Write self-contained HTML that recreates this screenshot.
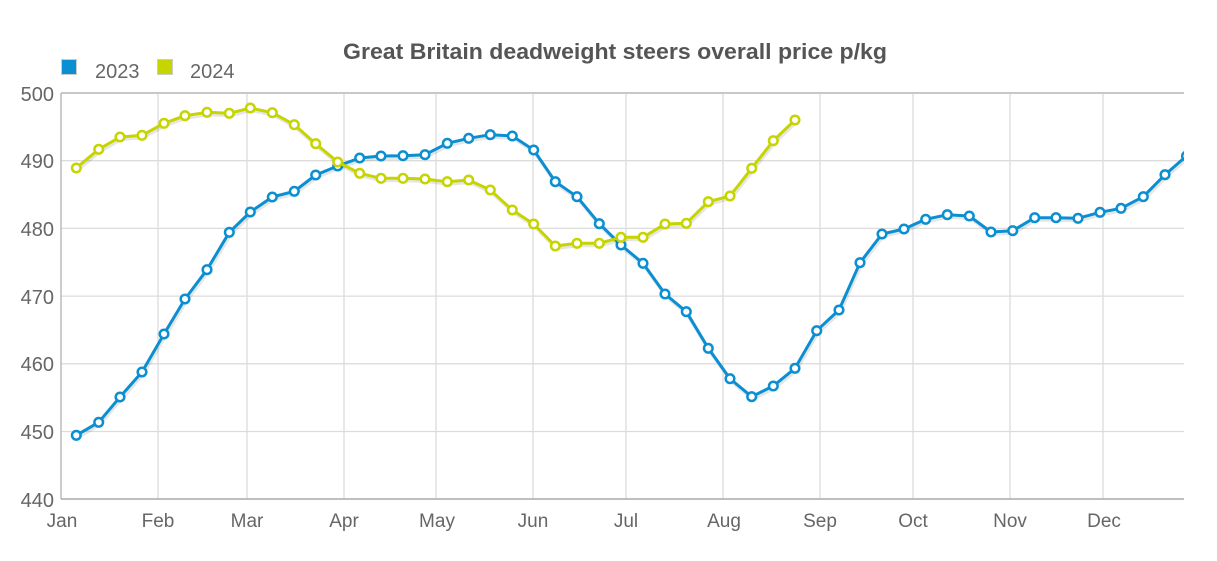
<!DOCTYPE html>
<html><head><meta charset="utf-8"><style>
html,body{margin:0;padding:0;background:#fff;}
svg{display:block;font-family:"Liberation Sans",sans-serif;}
</style></head><body>
<svg width="1217" height="561" viewBox="0 0 1217 561" xmlns="http://www.w3.org/2000/svg">
<defs><clipPath id="c"><rect x="61" y="80" width="1123" height="430"/></clipPath></defs>
<text x="615" y="59" text-anchor="middle" font-size="22" font-weight="bold" fill="#555" textLength="544" lengthAdjust="spacingAndGlyphs">Great Britain deadweight steers overall price p/kg</text>
<rect x="61.5" y="59.5" width="15" height="15" fill="#0a8fd3" stroke="#ccc" stroke-width="1"/>
<text x="95" y="78" font-size="20" fill="#666">2023</text>
<rect x="157.5" y="59.5" width="15" height="15" fill="#c6d400" stroke="#ccc" stroke-width="1"/>
<text x="190" y="78" font-size="20" fill="#666">2024</text>
<g stroke="#dcdcdc" stroke-width="1.3">
<line x1="61" y1="160.7" x2="1184" y2="160.7"/>
<line x1="61" y1="228.4" x2="1184" y2="228.4"/>
<line x1="61" y1="296.1" x2="1184" y2="296.1"/>
<line x1="61" y1="363.8" x2="1184" y2="363.8"/>
<line x1="61" y1="431.5" x2="1184" y2="431.5"/>
<line x1="158" y1="93" x2="158" y2="499"/>
<line x1="247" y1="93" x2="247" y2="499"/>
<line x1="344" y1="93" x2="344" y2="499"/>
<line x1="436" y1="93" x2="436" y2="499"/>
<line x1="533" y1="93" x2="533" y2="499"/>
<line x1="626" y1="93" x2="626" y2="499"/>
<line x1="723" y1="93" x2="723" y2="499"/>
<line x1="820" y1="93" x2="820" y2="499"/>
<line x1="913" y1="93" x2="913" y2="499"/>
<line x1="1010" y1="93" x2="1010" y2="499"/>
<line x1="1103" y1="93" x2="1103" y2="499"/>
</g>
<line x1="61" y1="93" x2="1184" y2="93" stroke="#c8c8c8" stroke-width="2"/>
<line x1="61" y1="93" x2="61" y2="499" stroke="#bbb" stroke-width="1.5"/>
<line x1="61" y1="499" x2="1184" y2="499" stroke="#aaa" stroke-width="1.5"/>
<g font-size="20" fill="#666" text-anchor="end">
<text x="54" y="101">500</text>
<text x="54" y="168">490</text>
<text x="54" y="236">480</text>
<text x="54" y="304">470</text>
<text x="54" y="371">460</text>
<text x="54" y="439">450</text>
<text x="54" y="507">440</text>
</g>
<g font-size="19" fill="#666" text-anchor="middle">
<text x="62" y="527">Jan</text>
<text x="158" y="527">Feb</text>
<text x="247" y="527">Mar</text>
<text x="344" y="527">Apr</text>
<text x="437" y="527">May</text>
<text x="533" y="527">Jun</text>
<text x="626" y="527">Jul</text>
<text x="724" y="527">Aug</text>
<text x="820" y="527">Sep</text>
<text x="913" y="527">Oct</text>
<text x="1010" y="527">Nov</text>
<text x="1104" y="527">Dec</text>
</g>
<g clip-path="url(#c)">
<g id="s23">
<polyline fill="none" stroke="rgba(0,0,0,0.1)" stroke-width="4" transform="translate(1,2)" points="76.3,435.3 98.7,422.3 120,397 142,372 164,334 185,299 207,269.7 229.3,232.3 250.3,212 272.3,197 294.3,191.3 315.7,175 337.7,166 359.7,158 381,156 403,155.7 425,154.7 447.3,143.3 468.7,138.3 490.3,134.7 512.3,136 533.7,150 555.3,181.7 577,196.7 599.3,223.7 621,245 643,263.3 665,294 686.3,311.7 708.3,348.3 730,378.7 751.7,396.7 773.3,386 795,368.3 816.7,330.7 839,310 860,262.7 882,234 904,229 925.7,219.3 947.3,214.7 969.3,216 991,232 1012.7,230.7 1034.7,217.7 1056,217.7 1078,218.3 1100,212.3 1121,208.3 1143.3,196.7 1165,174.7 1186.5,156"/>
<polyline fill="none" stroke="#0a8fd3" stroke-width="3" stroke-linejoin="round" points="76.3,435.3 98.7,422.3 120,397 142,372 164,334 185,299 207,269.7 229.3,232.3 250.3,212 272.3,197 294.3,191.3 315.7,175 337.7,166 359.7,158 381,156 403,155.7 425,154.7 447.3,143.3 468.7,138.3 490.3,134.7 512.3,136 533.7,150 555.3,181.7 577,196.7 599.3,223.7 621,245 643,263.3 665,294 686.3,311.7 708.3,348.3 730,378.7 751.7,396.7 773.3,386 795,368.3 816.7,330.7 839,310 860,262.7 882,234 904,229 925.7,219.3 947.3,214.7 969.3,216 991,232 1012.7,230.7 1034.7,217.7 1056,217.7 1078,218.3 1100,212.3 1121,208.3 1143.3,196.7 1165,174.7 1186.5,156"/>
<g fill="#fff" stroke="#0a8fd3" stroke-width="2.5">
<circle cx="76.3" cy="435.3" r="4.3"/><circle cx="98.7" cy="422.3" r="4.3"/><circle cx="120" cy="397" r="4.3"/><circle cx="142" cy="372" r="4.3"/><circle cx="164" cy="334" r="4.3"/><circle cx="185" cy="299" r="4.3"/><circle cx="207" cy="269.7" r="4.3"/><circle cx="229.3" cy="232.3" r="4.3"/><circle cx="250.3" cy="212" r="4.3"/><circle cx="272.3" cy="197" r="4.3"/><circle cx="294.3" cy="191.3" r="4.3"/><circle cx="315.7" cy="175" r="4.3"/><circle cx="337.7" cy="166" r="4.3"/><circle cx="359.7" cy="158" r="4.3"/><circle cx="381" cy="156" r="4.3"/><circle cx="403" cy="155.7" r="4.3"/><circle cx="425" cy="154.7" r="4.3"/><circle cx="447.3" cy="143.3" r="4.3"/><circle cx="468.7" cy="138.3" r="4.3"/><circle cx="490.3" cy="134.7" r="4.3"/><circle cx="512.3" cy="136" r="4.3"/><circle cx="533.7" cy="150" r="4.3"/><circle cx="555.3" cy="181.7" r="4.3"/><circle cx="577" cy="196.7" r="4.3"/><circle cx="599.3" cy="223.7" r="4.3"/><circle cx="621" cy="245" r="4.3"/><circle cx="643" cy="263.3" r="4.3"/><circle cx="665" cy="294" r="4.3"/><circle cx="686.3" cy="311.7" r="4.3"/><circle cx="708.3" cy="348.3" r="4.3"/><circle cx="730" cy="378.7" r="4.3"/><circle cx="751.7" cy="396.7" r="4.3"/><circle cx="773.3" cy="386" r="4.3"/><circle cx="795" cy="368.3" r="4.3"/><circle cx="816.7" cy="330.7" r="4.3"/><circle cx="839" cy="310" r="4.3"/><circle cx="860" cy="262.7" r="4.3"/><circle cx="882" cy="234" r="4.3"/><circle cx="904" cy="229" r="4.3"/><circle cx="925.7" cy="219.3" r="4.3"/><circle cx="947.3" cy="214.7" r="4.3"/><circle cx="969.3" cy="216" r="4.3"/><circle cx="991" cy="232" r="4.3"/><circle cx="1012.7" cy="230.7" r="4.3"/><circle cx="1034.7" cy="217.7" r="4.3"/><circle cx="1056" cy="217.7" r="4.3"/><circle cx="1078" cy="218.3" r="4.3"/><circle cx="1100" cy="212.3" r="4.3"/><circle cx="1121" cy="208.3" r="4.3"/><circle cx="1143.3" cy="196.7" r="4.3"/><circle cx="1165" cy="174.7" r="4.3"/><circle cx="1186.5" cy="156" r="4.3"/>
</g>
</g>
<g id="s24">
<polyline fill="none" stroke="rgba(0,0,0,0.1)" stroke-width="4" transform="translate(1,2)" points="76.3,168 98.7,149.3 120,137 142,135.3 164,123.3 185,115.7 207,112.3 229.3,113.3 250.3,108 272.3,112.7 294.3,124.7 315.7,143.7 337.7,162 359.7,173.3 381,178.3 403,178.3 425,179 447.3,181.7 468.7,180 490.3,190 512.3,210 533.7,224 555.3,246 577,243.3 599.3,243.3 621,237.3 643,237.3 665,224 686.3,223.3 708.3,201.7 730,196 751.7,168.3 773.3,140.7 795,120"/>
<polyline fill="none" stroke="#c6d400" stroke-width="3" stroke-linejoin="round" points="76.3,168 98.7,149.3 120,137 142,135.3 164,123.3 185,115.7 207,112.3 229.3,113.3 250.3,108 272.3,112.7 294.3,124.7 315.7,143.7 337.7,162 359.7,173.3 381,178.3 403,178.3 425,179 447.3,181.7 468.7,180 490.3,190 512.3,210 533.7,224 555.3,246 577,243.3 599.3,243.3 621,237.3 643,237.3 665,224 686.3,223.3 708.3,201.7 730,196 751.7,168.3 773.3,140.7 795,120"/>
<g fill="#fff" stroke="#c6d400" stroke-width="2.5">
<circle cx="76.3" cy="168" r="4.3"/><circle cx="98.7" cy="149.3" r="4.3"/><circle cx="120" cy="137" r="4.3"/><circle cx="142" cy="135.3" r="4.3"/><circle cx="164" cy="123.3" r="4.3"/><circle cx="185" cy="115.7" r="4.3"/><circle cx="207" cy="112.3" r="4.3"/><circle cx="229.3" cy="113.3" r="4.3"/><circle cx="250.3" cy="108" r="4.3"/><circle cx="272.3" cy="112.7" r="4.3"/><circle cx="294.3" cy="124.7" r="4.3"/><circle cx="315.7" cy="143.7" r="4.3"/><circle cx="337.7" cy="162" r="4.3"/><circle cx="359.7" cy="173.3" r="4.3"/><circle cx="381" cy="178.3" r="4.3"/><circle cx="403" cy="178.3" r="4.3"/><circle cx="425" cy="179" r="4.3"/><circle cx="447.3" cy="181.7" r="4.3"/><circle cx="468.7" cy="180" r="4.3"/><circle cx="490.3" cy="190" r="4.3"/><circle cx="512.3" cy="210" r="4.3"/><circle cx="533.7" cy="224" r="4.3"/><circle cx="555.3" cy="246" r="4.3"/><circle cx="577" cy="243.3" r="4.3"/><circle cx="599.3" cy="243.3" r="4.3"/><circle cx="621" cy="237.3" r="4.3"/><circle cx="643" cy="237.3" r="4.3"/><circle cx="665" cy="224" r="4.3"/><circle cx="686.3" cy="223.3" r="4.3"/><circle cx="708.3" cy="201.7" r="4.3"/><circle cx="730" cy="196" r="4.3"/><circle cx="751.7" cy="168.3" r="4.3"/><circle cx="773.3" cy="140.7" r="4.3"/><circle cx="795" cy="120" r="4.3"/>
</g>
</g>
</g>
</svg>
</body></html>
